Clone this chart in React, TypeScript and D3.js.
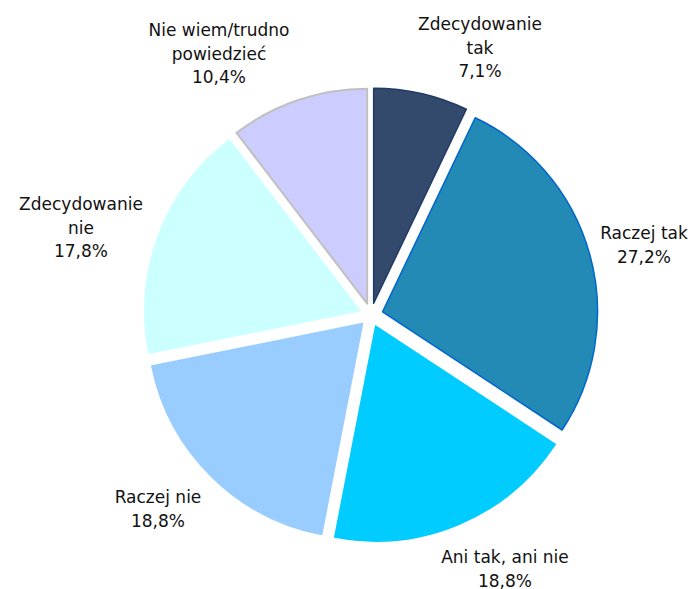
import React from "react";
import * as d3 from "d3";

const categories = [
  "Zdecydowanie tak",
  "Raczej tak",
  "Ani tak, ani nie",
  "Raczej nie",
  "Zdecydowanie nie",
  "Nie wiem/trudno powiedzieć",
];
const values = [7.1, 27.2, 18.8, 18.8, 17.8, 10.4];
const labelLines = [
  ["Zdecydowanie", "tak", "7,1%"],
  ["Raczej tak", "27,2%"],
  ["Ani tak, ani nie", "18,8%"],
  ["Raczej nie", "18,8%"],
  ["Zdecydowanie", "nie", "17,8%"],
  ["Nie wiem/trudno", "powiedzieć", "10,4%"],
];
const fills = ["#344A6D", "#228AB5", "#00CCFF", "#99CCFF", "#CCFFFF", "#CCCCFF"];
const strokes = ["#1F3A66", "#0066CC", "#00CCFF", "#99CCFF", "#CCFFFF", "#C0C0C0"];
// label anchor: center x, first baseline y (layout)
const labelAnchors: [number, number][] = [
  [480, 30],
  [644, 239],
  [505, 563],
  [158, 503],
  [81, 210],
  [219, 36],
];

const W = 697;
const H = 589;
const CX = 371;
const CY = 315;
const R = 215;
const EXPLODE = 12;
const LINE_H = 23.5;

export default function App() {
  const data = categories.map((c, i) => ({ c, v: values[i], i }));
  const pie = d3
    .pie<{ c: string; v: number; i: number }>()
    .sort(null)
    .value((d) => d.v)
    .startAngle(0)
    .endAngle(2 * Math.PI);
  const arcs = pie(data);
  const arcGen = d3
    .arc<d3.PieArcDatum<{ c: string; v: number; i: number }>>()
    .innerRadius(0)
    .outerRadius(R);

  return (
    <svg
      width={W}
      height={H}
      style={{ position: "absolute", left: 0, top: 0, background: "#fff" }}
      fontFamily="Verdana, 'DejaVu Sans', sans-serif"
    >
      <g transform={`translate(${CX},${CY})`}>
        {arcs.map((a, k) => {
          const mid = (a.startAngle + a.endAngle) / 2;
          const dx = Math.sin(mid) * EXPLODE;
          const dy = -Math.cos(mid) * EXPLODE;
          return (
            <path
              key={k}
              d={arcGen(a) || ""}
              transform={`translate(${dx},${dy})`}
              fill={fills[k]}
              stroke={strokes[k]}
              strokeWidth={k === 5 ? 2 : 1.5}
              strokeLinejoin="round"
            />
          );
        })}
      </g>
      {labelLines.map((lines, k) => (
        <text
          key={k}
          x={labelAnchors[k][0]}
          y={labelAnchors[k][1]}
          textAnchor="middle"
          fontSize={17}
          fill="#111"
        >
          {lines.map((l, j) => (
            <tspan key={j} x={labelAnchors[k][0]} dy={j === 0 ? 0 : LINE_H}>
              {l}
            </tspan>
          ))}
        </text>
      ))}
    </svg>
  );
}
